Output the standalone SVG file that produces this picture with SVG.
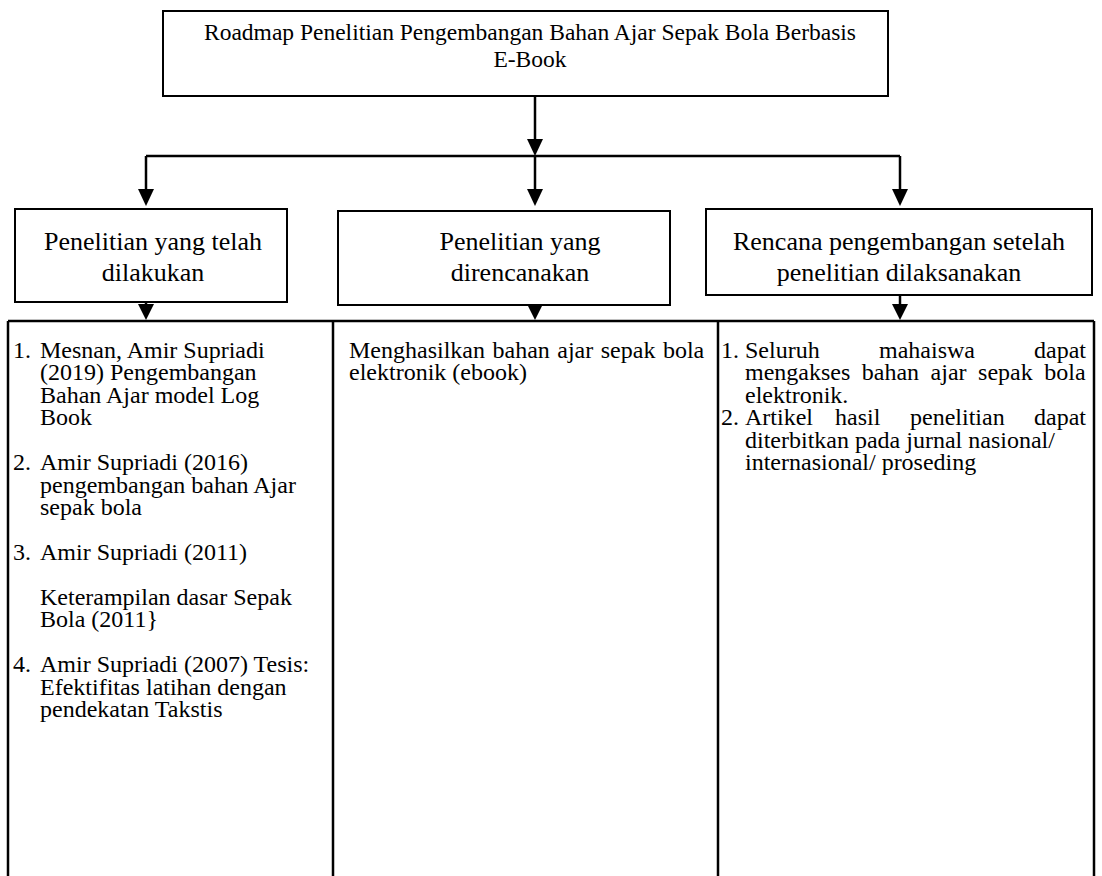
<svg xmlns="http://www.w3.org/2000/svg" width="1102" height="876" viewBox="0 0 1102 876">
<defs>
<style>
.box{fill:#fff;stroke:#000;stroke-width:2}
.ln{fill:none;stroke:#000;stroke-width:2.5}
.ah{fill:#000}
.t{font-family:"Liberation Serif","Times New Roman",serif;fill:#000}
.ti{font-size:23.5px}
.lb{font-size:26px}
.bd{font-size:24px}
</style>
</defs>
<rect width="1102" height="876" fill="#fff"/>
<g id="title">
<rect class="box" x="163" y="11" width="725" height="85"/>
<text class="t ti" x="530" y="40" text-anchor="middle">Roadmap Penelitian Pengembangan Bahan Ajar Sepak Bola Berbasis</text>
<text class="t ti" x="530" y="67" text-anchor="middle">E-Book</text>
</g>
<g id="connectors">
<path class="ln" d="M535,96 V142"/>
<path class="ah" d="M527,139 L543,139 L535,156 Z"/>
<path class="ln" d="M146,156 H900"/>
<path class="ln" d="M146,156 V192"/><path class="ah" d="M138,189 L154,189 L146,206 Z"/>
<path class="ln" d="M535,156 V192"/><path class="ah" d="M527,189 L543,189 L535,206 Z"/>
<path class="ln" d="M900,156 V192"/><path class="ah" d="M892,189 L908,189 L900,206 Z"/>
<path class="ln" d="M146,302 V308"/><path class="ah" d="M138,304 L154,304 L146,320 Z"/>
<path class="ln" d="M535,305 V308"/><path class="ah" d="M527,304 L543,304 L535,320 Z"/>
<path class="ln" d="M900,295 V308"/><path class="ah" d="M892,304 L908,304 L900,320 Z"/>
</g>
<g id="box-done">
<rect class="box" x="15" y="209" width="272" height="93"/>
<text class="t lb" x="153" y="250" text-anchor="middle">Penelitian yang telah</text>
<text class="t lb" x="153" y="281" text-anchor="middle">dilakukan</text>
</g>
<g id="box-planned">
<rect class="box" x="338" y="211" width="332" height="94"/>
<text class="t lb" x="520" y="250" text-anchor="middle">Penelitian yang</text>
<text class="t lb" x="520" y="281" text-anchor="middle">direncanakan</text>
</g>
<g id="box-next">
<rect class="box" x="706" y="209" width="386" height="86"/>
<text class="t lb" x="899" y="250" text-anchor="middle">Rencana pengembangan setelah</text>
<text class="t lb" x="899" y="281" text-anchor="middle">penelitian dilaksanakan</text>
</g>
<g id="table">
<path class="ln" d="M8,321 H1094 M8,321 V876 M333,321 V876 M718,321 V876 M1094,321 V876"/>
</g>
<g id="col-done" class="t bd">
<text x="13" y="358">1.</text><text x="40" y="358">Mesnan, Amir Supriadi</text>
<text x="40" y="380">(2019) Pengembangan</text>
<text x="40" y="403">Bahan Ajar model Log</text>
<text x="40" y="425">Book</text>
<text x="13" y="470">2.</text><text x="40" y="470">Amir Supriadi (2016)</text>
<text x="40" y="493">pengembangan bahan Ajar</text>
<text x="40" y="515">sepak bola</text>
<text x="13" y="560">3.</text><text x="40" y="560">Amir Supriadi (2011)</text>
<text x="40" y="605">Keterampilan dasar Sepak</text>
<text x="40" y="627">Bola (2011}</text>
<text x="13" y="672">4.</text><text x="40" y="672">Amir Supriadi (2007) Tesis:</text>
<text x="40" y="695">Efektifitas latihan dengan</text>
<text x="40" y="717">pendekatan Takstis</text>
</g>
<g id="col-planned" class="t bd">
<text x="349" y="358" word-spacing="1.5">Menghasilkan bahan ajar sepak bola</text>
<text x="349" y="380">elektronik (ebook)</text>
</g>
<g id="col-next" class="t bd">
<text x="721" y="358">1.</text>
<text x="745" y="358">Seluruh</text>
<text x="879" y="358">mahaiswa</text>
<text x="1086" y="358" text-anchor="end">dapat</text>
<text x="745" y="380" word-spacing="5.5">mengakses bahan ajar sepak bola</text>
<text x="745" y="403">elektronik.</text>
<text x="721" y="425">2.</text>
<text x="745" y="425">Artikel</text>
<text x="835" y="425">hasil</text>
<text x="910" y="425">penelitian</text>
<text x="1086" y="425" text-anchor="end">dapat</text>
<text x="745" y="448">diterbitkan pada jurnal nasional/</text>
<text x="745" y="470">internasional/ proseding</text>
</g>
</svg>
